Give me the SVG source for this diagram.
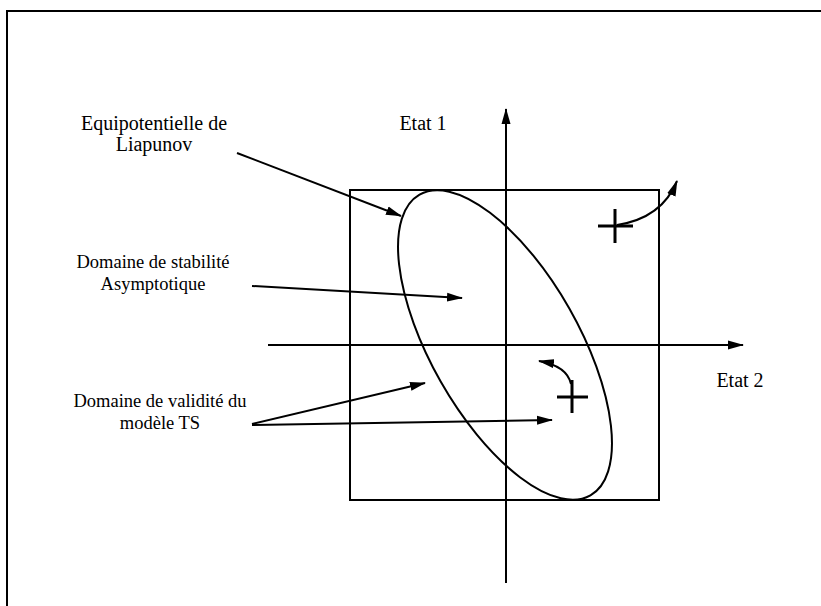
<svg xmlns="http://www.w3.org/2000/svg" width="821" height="606" viewBox="0 0 821 606">
<style>
.ln{stroke:#000;stroke-width:2;fill:none}
.cr{stroke:#000;stroke-width:3;fill:none}
.t{font-family:"Liberation Serif","Times New Roman",serif;font-size:20px;fill:#000;text-anchor:middle}
.s{font-size:18.5px}
</style>
<defs>
<marker id="ah" markerUnits="userSpaceOnUse" markerWidth="16" markerHeight="10" refX="15" refY="5" orient="auto">
<path d="M0,0.5 L16,5 L0,9.5 z" fill="#000"/>
</marker>
</defs>
<rect width="821" height="606" fill="#fff"/>
<g id="frame">
<path class="ln" d="M7,606 V11 H821"/>
</g>
<g id="domain">
<rect class="ln" x="350" y="190" width="309" height="310"/>
</g>
<g id="axes">
<line class="ln" x1="506" y1="583" x2="506" y2="109" marker-end="url(#ah)"/>
<line class="ln" x1="268" y1="345" x2="743" y2="345" marker-end="url(#ah)"/>
</g>
<g id="ellipse">
<ellipse class="ln" cx="505" cy="345" rx="173" ry="74" transform="rotate(60.4 505 345)"/>
</g>
<g id="cross1">
<path class="cr" d="M598,226 H633 M615,209 V243"/>
</g>
<g id="cross2">
<path class="cr" d="M557,397 H588 M572,380 V413"/>
</g>
<g id="labels">
<text class="t" x="154" y="130">Equipotentielle de</text>
<text class="t" x="154" y="151">Liapunov</text>
<text class="t" x="423" y="130">Etat 1</text>
<text class="t s" x="153" y="268">Domaine de stabilité</text>
<text class="t s" x="153" y="290">Asymptotique</text>
<text class="t" x="740" y="387">Etat 2</text>
<text class="t s" x="160" y="407">Domaine de validité du</text>
<text class="t s" x="160" y="429">modèle TS</text>
</g>
<g id="connectors">
<line class="ln" x1="237" y1="153" x2="401" y2="216" marker-end="url(#ah)"/>
<line class="ln" x1="252" y1="286" x2="462" y2="298" marker-end="url(#ah)"/>
<line class="ln" x1="252" y1="424" x2="425" y2="383" marker-end="url(#ah)"/>
<line class="ln" x1="252" y1="425" x2="552" y2="420" marker-end="url(#ah)"/>
<path class="ln" d="M617,225 Q662,218 677,181" marker-end="url(#ah)"/>
<path class="ln" d="M571,384 Q567,366 539,361" marker-end="url(#ah)"/>
</g>
</svg>
